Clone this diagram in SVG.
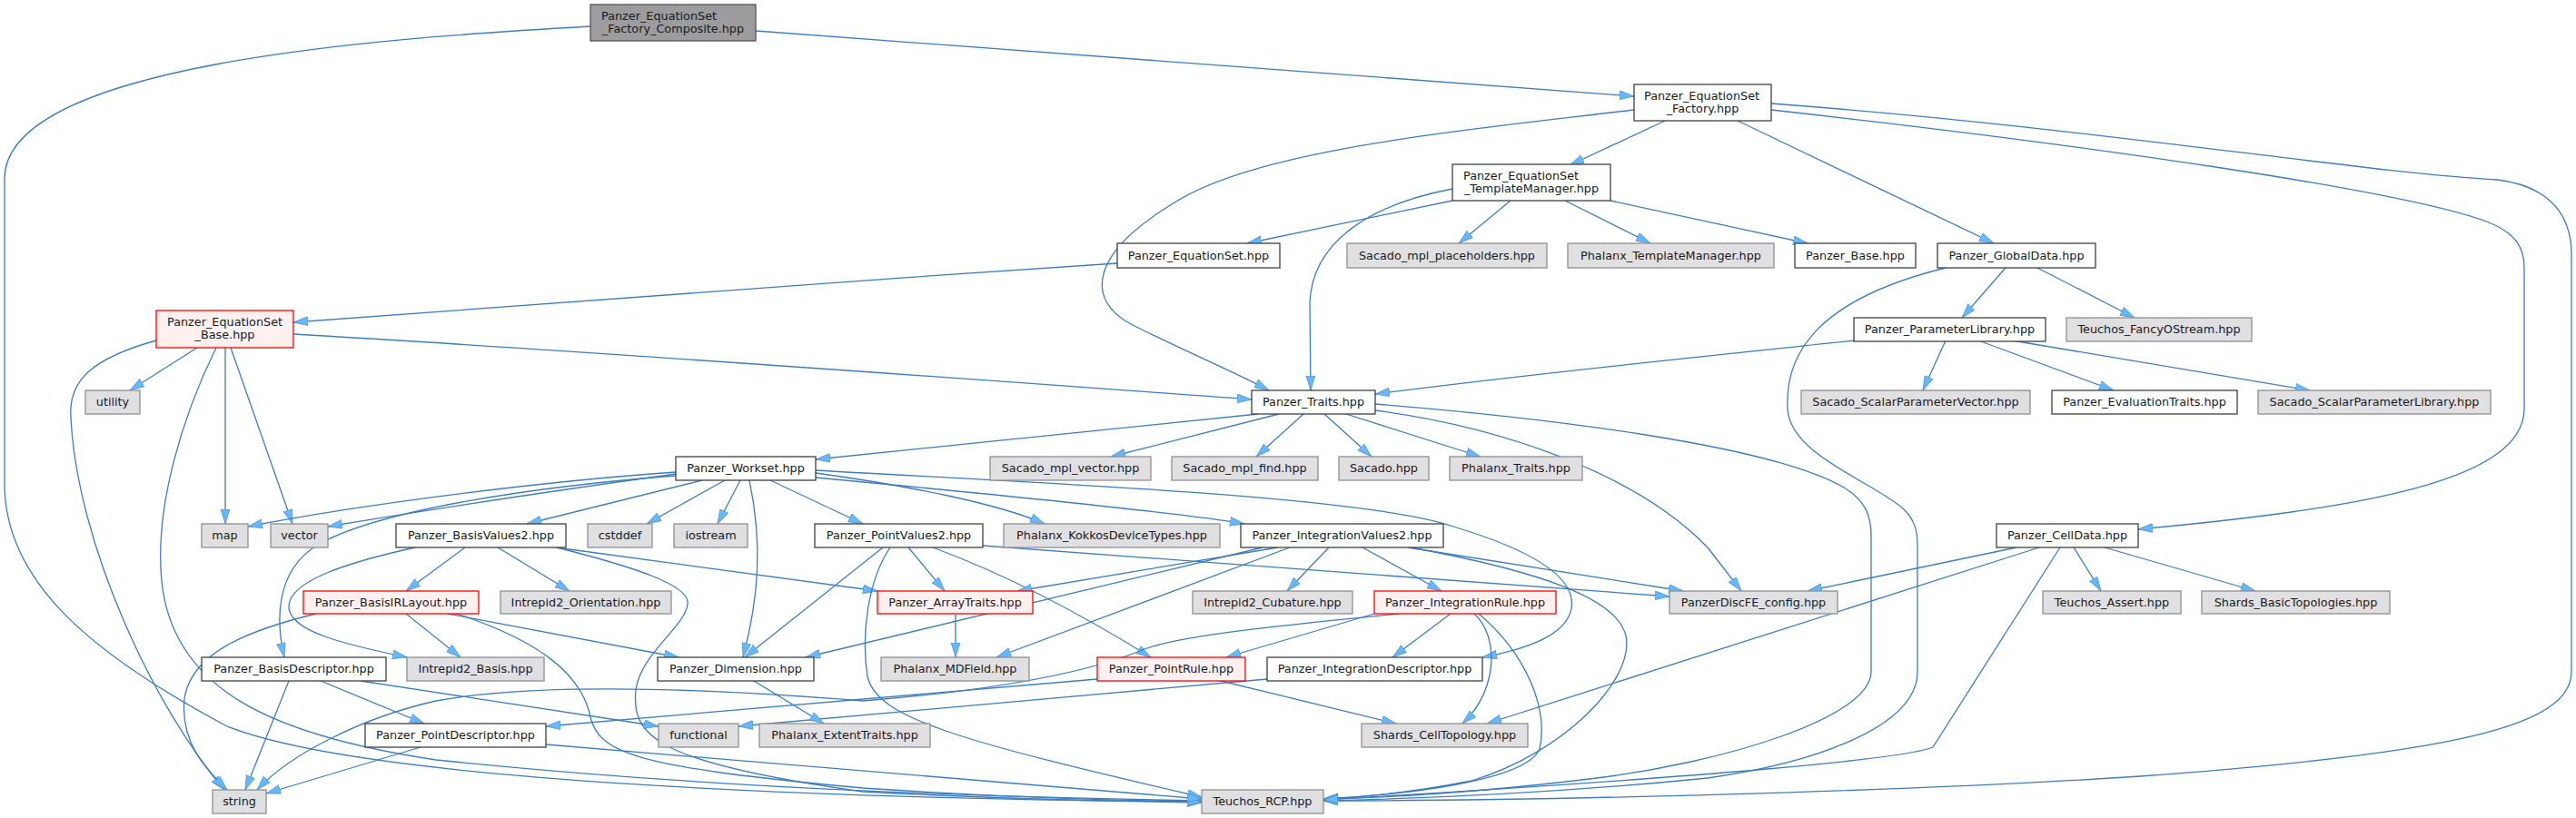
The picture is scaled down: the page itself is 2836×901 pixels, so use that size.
<svg xmlns="http://www.w3.org/2000/svg" width="2836" height="901" viewBox="0 0 2836 901">
<defs>
<marker id="ah" markerUnits="userSpaceOnUse" markerWidth="17" markerHeight="11" refX="16" refY="5" orient="auto"><path d="M0,0 L16,5 L0,10 z" fill="#63b8ff" stroke="#4a7fb0" stroke-width="0.6"/></marker>
<style>
.e{fill:none;stroke:#3d7dbd;stroke-width:1.3;marker-end:url(#ah)}
.n rect{fill:#fcfffc;stroke:#404040;stroke-width:1.3}
.x rect{fill:#e0e0e2;stroke:#909090;stroke-width:1.3}
.r rect{fill:#fff0f0;stroke:#ff0000;stroke-width:1.3}
.root rect{fill:#9c9c9e;stroke:#555555;stroke-width:1.3}
text{font-family:"DejaVu Sans","Liberation Sans",sans-serif;font-size:12.8px;fill:#1a1a1a}
.c{text-anchor:middle}
</style>
</defs>
<rect width="2836" height="901" fill="#ffffff"/>
<g id="edges">
<path class="e" d="M832,34 L1799,106"/>
<path class="e" d="M650,29 C420,42 5,70 5,197 L5,533 C5,640 100,720 250,800 C400,860 900,880 1323,883"/>
<path class="e" d="M1833,133 L1728,182"/>
<path class="e" d="M1799,121 C1600,145 1380,165 1290,225 C1200,280 1195,330 1245,357 C1300,385 1360,410 1397,430"/>
<path class="e" d="M1913,133 L2195,268"/>
<path class="e" d="M1950,121 C2300,160 2650,210 2740,245 C2772,258 2779,275 2779,295 L2779,450 C2779,530 2600,560 2354,583"/>
<path class="e" d="M1950,114 C2300,140 2600,190 2750,198 C2805,205 2831,235 2831,280 L2831,740 C2831,800 2700,830 2356,855 C2100,872 1700,882 1457,882"/>
<path class="e" d="M1599,221 L1373,268"/>
<path class="e" d="M1663,221 L1606,268"/>
<path class="e" d="M1723,221 L1817,268"/>
<path class="e" d="M1773,221 L1990,268"/>
<path class="e" d="M1599,208 C1510,225 1445,265 1442,333 L1443,430"/>
<path class="e" d="M1230,290 C900,312 500,340 323,355"/>
<path class="e" d="M323,368 C700,390 1100,420 1378,440"/>
<path class="e" d="M217,383 L143,430"/>
<path class="e" d="M248,383 L248,577"/>
<path class="e" d="M254,383 L322,577"/>
<path class="e" d="M172,375 C100,395 75,420 78,460 C85,600 170,780 247,870"/>
<path class="e" d="M238,383 C200,460 170,560 178,640 C190,760 300,810 480,837 C800,870 1100,878 1323,882"/>
<path class="e" d="M1385,456 L898,506"/>
<path class="e" d="M1408,456 L1223,503"/>
<path class="e" d="M1435,456 L1383,503"/>
<path class="e" d="M1458,456 L1510,503"/>
<path class="e" d="M1482,456 L1630,503"/>
<path class="e" d="M1514,445 C1700,460 1950,490 2030,537 C2055,552 2060,570 2060,590 L2060,740 C2060,790 1900,840 1750,858 C1650,870 1550,878 1457,880"/>
<path class="e" d="M1514,452 C1650,470 1800,520 1880,603 L1917,651"/>
<path class="e" d="M2208,295 L2160,350"/>
<path class="e" d="M2243,295 L2350,350"/>
<path class="e" d="M2142,295 C2000,330 1965,390 1968,450 C1970,500 2060,530 2095,560 C2108,572 2111,585 2111,600 L2111,740 C2111,800 2000,840 1880,857 C1700,875 1550,880 1457,882"/>
<path class="e" d="M2043,375 C1900,390 1700,410 1514,434"/>
<path class="e" d="M2142,375 L2117,430"/>
<path class="e" d="M2178,375 L2327,430"/>
<path class="e" d="M2215,375 L2543,430"/>
<path class="e" d="M744,520 C600,530 400,555 273,580"/>
<path class="e" d="M744,522 C650,535 480,560 361,580"/>
<path class="e" d="M744,524 C600,535 420,560 350,600 C300,630 305,690 313,724"/>
<path class="e" d="M773,529 L580,577"/>
<path class="e" d="M798,529 L712,577"/>
<path class="e" d="M815,529 L790,577"/>
<path class="e" d="M825,529 C840,600 835,660 818,724"/>
<path class="e" d="M848,529 L950,577"/>
<path class="e" d="M898,521 C1000,535 1100,555 1150,577"/>
<path class="e" d="M898,526 C1100,545 1300,565 1370,577"/>
<path class="e" d="M898,518 C1100,530 1500,545 1600,580 C1700,610 1735,640 1730,670 C1725,700 1680,715 1632,724"/>
<path class="e" d="M512,603 L447,651"/>
<path class="e" d="M548,603 L627,651"/>
<path class="e" d="M457,603 C380,620 320,640 318,667 C316,695 380,710 448,724"/>
<path class="e" d="M612,603 L966,651"/>
<path class="e" d="M613,603 C700,625 760,645 757,665 C755,690 705,720 700,760 C695,810 720,840 950,872 C1100,880 1250,883 1323,884"/>
<path class="e" d="M348,676 C270,695 210,720 203,770 C198,820 230,850 250,870"/>
<path class="e" d="M447,676 L507,724"/>
<path class="e" d="M493,676 L747,724"/>
<path class="e" d="M503,676 C590,705 640,740 650,790 C660,830 700,845 950,868 C1100,878 1250,882 1323,883"/>
<path class="e" d="M1000,603 L1040,651"/>
<path class="e" d="M972,603 L820,724"/>
<path class="e" d="M1027,603 C1100,630 1180,670 1267,724"/>
<path class="e" d="M980,603 C955,640 948,700 955,745 C965,790 1050,815 1323,878"/>
<path class="e" d="M1082,601 L1838,657"/>
<path class="e" d="M1407,603 L1120,651"/>
<path class="e" d="M1390,603 L887,724"/>
<path class="e" d="M1420,603 L1097,724"/>
<path class="e" d="M1463,603 L1417,651"/>
<path class="e" d="M1500,603 L1587,651"/>
<path class="e" d="M1550,603 L1853,651"/>
<path class="e" d="M1553,603 C1700,630 1780,660 1790,700 C1800,750 1720,830 1620,860 C1560,872 1500,878 1457,880"/>
<path class="e" d="M1513,676 L1350,724"/>
<path class="e" d="M1540,676 C1400,690 1300,700 1260,715 C1200,740 1100,760 950,772 C800,760 600,750 480,772 C400,790 320,830 283,870"/>
<path class="e" d="M1597,676 L1533,724"/>
<path class="e" d="M1623,676 C1650,700 1650,760 1610,797"/>
<path class="e" d="M1628,676 C1680,720 1705,780 1695,825 C1680,860 1550,875 1457,880"/>
<path class="e" d="M1340,749 L1537,797"/>
<path class="e" d="M1208,748 L601,800"/>
<path class="e" d="M1395,748 L813,800"/>
<path class="e" d="M318,750 L270,870"/>
<path class="e" d="M353,750 L467,797"/>
<path class="e" d="M397,750 L725,800"/>
<path class="e" d="M463,823 L293,874"/>
<path class="e" d="M601,820 L1323,880"/>
<path class="e" d="M1052,677 L1052,724"/>
<path class="e" d="M830,750 L907,797"/>
<path class="e" d="M2220,603 L1990,651"/>
<path class="e" d="M2245,603 L1637,797"/>
<path class="e" d="M2268,603 L2128,823 C2100,835 1900,855 1457,881"/>
<path class="e" d="M2283,603 L2313,651"/>
<path class="e" d="M2317,603 L2483,651"/>
</g>
<g id="Composite" class="root"><rect x="650" y="5" width="182" height="40"/><text x="662" y="22">Panzer_EquationSet</text><text class="c" x="741" y="36">_Factory_Composite.hpp</text></g>
<g id="Factory" class="n"><rect x="1799" y="93" width="151" height="40"/><text x="1810" y="110">Panzer_EquationSet</text><text class="c" x="1874.5" y="124">_Factory.hpp</text></g>
<g id="TemplateManager" class="n"><rect x="1599" y="181" width="174" height="40"/><text x="1611" y="198">Panzer_EquationSet</text><text class="c" x="1686" y="212">_TemplateManager.hpp</text></g>
<g id="EquationSet" class="n"><rect x="1230" y="268" width="179" height="27"/><text class="c" x="1319.5" y="286">Panzer_EquationSet.hpp</text></g>
<g id="MplPlaceholders" class="x"><rect x="1483" y="268" width="220" height="27"/><text class="c" x="1593" y="286">Sacado_mpl_placeholders.hpp</text></g>
<g id="PhalanxTM" class="x"><rect x="1726" y="268" width="227" height="27"/><text class="c" x="1839.5" y="286">Phalanx_TemplateManager.hpp</text></g>
<g id="PanzerBase" class="n"><rect x="1976" y="268" width="133" height="27"/><text class="c" x="2042.5" y="286">Panzer_Base.hpp</text></g>
<g id="GlobalData" class="n"><rect x="2133" y="268" width="174" height="27"/><text class="c" x="2220" y="286">Panzer_GlobalData.hpp</text></g>
<g id="ParamLib" class="n"><rect x="2041" y="350" width="211" height="26"/><text class="c" x="2146.5" y="367">Panzer_ParameterLibrary.hpp</text></g>
<g id="FancyOStream" class="x"><rect x="2275" y="350" width="204" height="26"/><text class="c" x="2377" y="367">Teuchos_FancyOStream.hpp</text></g>
<g id="EqSetBase" class="r"><rect x="172" y="342" width="151" height="41"/><text x="184" y="359">Panzer_EquationSet</text><text class="c" x="247.5" y="373">_Base.hpp</text></g>
<g id="utility" class="x"><rect x="94" y="430" width="60" height="26"/><text class="c" x="124" y="447">utility</text></g>
<g id="Traits" class="n"><rect x="1378" y="430" width="136" height="26"/><text class="c" x="1446" y="447">Panzer_Traits.hpp</text></g>
<g id="SPV" class="x"><rect x="1983" y="430" width="252" height="26"/><text class="c" x="2109" y="447">Sacado_ScalarParameterVector.hpp</text></g>
<g id="EvalTraits" class="n"><rect x="2259" y="430" width="204" height="26"/><text class="c" x="2361" y="447">Panzer_EvaluationTraits.hpp</text></g>
<g id="SPL" class="x"><rect x="2486" y="430" width="256" height="26"/><text class="c" x="2614" y="447">Sacado_ScalarParameterLibrary.hpp</text></g>
<g id="Workset" class="n"><rect x="744" y="503" width="154" height="26"/><text class="c" x="821" y="520">Panzer_Workset.hpp</text></g>
<g id="MplVector" class="x"><rect x="1090" y="503" width="177" height="26"/><text class="c" x="1178.5" y="520">Sacado_mpl_vector.hpp</text></g>
<g id="MplFind" class="x"><rect x="1290" y="503" width="161" height="26"/><text class="c" x="1370.5" y="520">Sacado_mpl_find.hpp</text></g>
<g id="Sacado" class="x"><rect x="1474" y="503" width="99" height="26"/><text class="c" x="1523.5" y="520">Sacado.hpp</text></g>
<g id="PhalanxTraits" class="x"><rect x="1596" y="503" width="146" height="26"/><text class="c" x="1669" y="520">Phalanx_Traits.hpp</text></g>
<g id="map" class="x"><rect x="222" y="577" width="51" height="26"/><text class="c" x="247.5" y="594">map</text></g>
<g id="vector" class="x"><rect x="298" y="577" width="63" height="26"/><text class="c" x="329.5" y="594">vector</text></g>
<g id="BasisValues2" class="n"><rect x="436" y="577" width="187" height="26"/><text class="c" x="529.5" y="594">Panzer_BasisValues2.hpp</text></g>
<g id="cstddef" class="x"><rect x="647" y="577" width="71" height="26"/><text class="c" x="682.5" y="594">cstddef</text></g>
<g id="iostream" class="x"><rect x="742" y="577" width="81" height="26"/><text class="c" x="782.5" y="594">iostream</text></g>
<g id="PointValues2" class="n"><rect x="897" y="577" width="185" height="26"/><text class="c" x="989.5" y="594">Panzer_PointValues2.hpp</text></g>
<g id="Kokkos" class="x"><rect x="1105" y="577" width="238" height="26"/><text class="c" x="1224" y="594">Phalanx_KokkosDeviceTypes.hpp</text></g>
<g id="IntValues2" class="n"><rect x="1366" y="577" width="223" height="26"/><text class="c" x="1477.5" y="594">Panzer_IntegrationValues2.hpp</text></g>
<g id="CellData" class="n"><rect x="2198" y="577" width="156" height="26"/><text class="c" x="2276" y="594">Panzer_CellData.hpp</text></g>
<g id="BasisIRLayout" class="r"><rect x="334" y="651" width="193" height="25"/><text class="c" x="430.5" y="668">Panzer_BasisIRLayout.hpp</text></g>
<g id="Orientation" class="x"><rect x="551" y="651" width="188" height="25"/><text class="c" x="645" y="668">Intrepid2_Orientation.hpp</text></g>
<g id="ArrayTraits" class="r"><rect x="966" y="651" width="171" height="25"/><text class="c" x="1051.5" y="668">Panzer_ArrayTraits.hpp</text></g>
<g id="Cubature" class="x"><rect x="1313" y="651" width="176" height="25"/><text class="c" x="1401" y="668">Intrepid2_Cubature.hpp</text></g>
<g id="IntRule" class="r"><rect x="1513" y="651" width="200" height="25"/><text class="c" x="1613" y="668">Panzer_IntegrationRule.hpp</text></g>
<g id="DiscFE" class="x"><rect x="1838" y="651" width="185" height="25"/><text class="c" x="1930.5" y="668">PanzerDiscFE_config.hpp</text></g>
<g id="Assert" class="x"><rect x="2249" y="651" width="152" height="25"/><text class="c" x="2325" y="668">Teuchos_Assert.hpp</text></g>
<g id="BasicTopologies" class="x"><rect x="2424" y="651" width="207" height="25"/><text class="c" x="2527.5" y="668">Shards_BasicTopologies.hpp</text></g>
<g id="BasisDescriptor" class="n"><rect x="222" y="724" width="203" height="26"/><text class="c" x="323.5" y="741">Panzer_BasisDescriptor.hpp</text></g>
<g id="I2Basis" class="x"><rect x="448" y="724" width="151" height="26"/><text class="c" x="523.5" y="741">Intrepid2_Basis.hpp</text></g>
<g id="Dimension" class="n"><rect x="724" y="724" width="172" height="26"/><text class="c" x="810" y="741">Panzer_Dimension.hpp</text></g>
<g id="MDField" class="x"><rect x="970" y="724" width="163" height="26"/><text class="c" x="1051.5" y="741">Phalanx_MDField.hpp</text></g>
<g id="PointRule" class="r"><rect x="1208" y="724" width="163" height="26"/><text class="c" x="1289.5" y="741">Panzer_PointRule.hpp</text></g>
<g id="IntDescriptor" class="n"><rect x="1395" y="724" width="237" height="26"/><text class="c" x="1513.5" y="741">Panzer_IntegrationDescriptor.hpp</text></g>
<g id="PointDescriptor" class="n"><rect x="402" y="797" width="199" height="26"/><text class="c" x="501.5" y="814">Panzer_PointDescriptor.hpp</text></g>
<g id="functional" class="x"><rect x="725" y="797" width="88" height="26"/><text class="c" x="769" y="814">functional</text></g>
<g id="ExtentTraits" class="x"><rect x="836" y="797" width="188" height="26"/><text class="c" x="930" y="814">Phalanx_ExtentTraits.hpp</text></g>
<g id="CellTopology" class="x"><rect x="1499" y="797" width="183" height="26"/><text class="c" x="1590.5" y="814">Shards_CellTopology.hpp</text></g>
<g id="string" class="x"><rect x="234" y="870" width="59" height="26"/><text class="c" x="263.5" y="887">string</text></g>
<g id="RCP" class="x"><rect x="1323" y="870" width="134" height="26"/><text class="c" x="1390" y="887">Teuchos_RCP.hpp</text></g>
</svg>
